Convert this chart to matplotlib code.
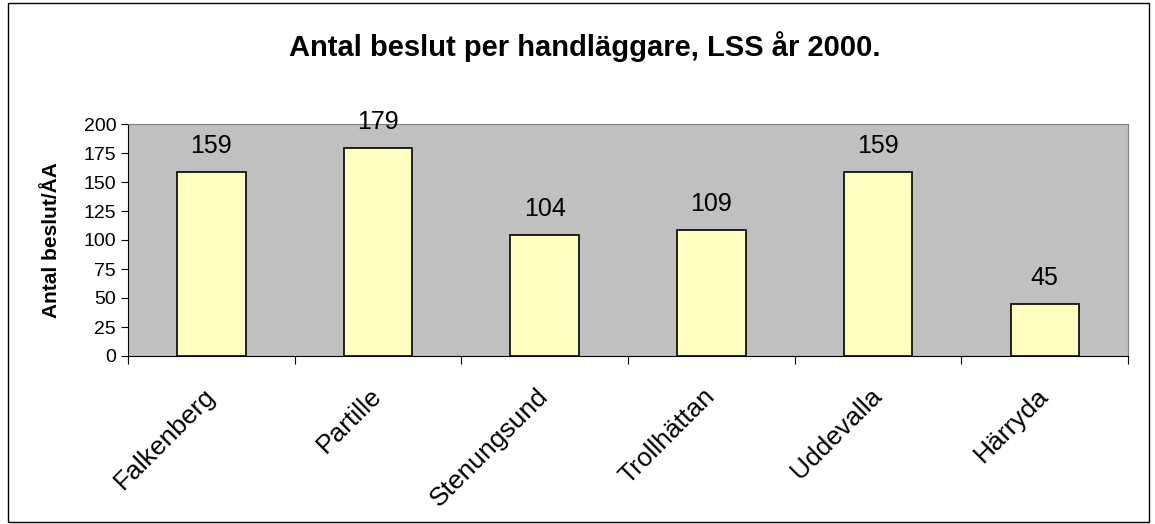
import numpy as np
import matplotlib.pyplot as plt
from matplotlib.patches import Rectangle

plt.rcParams['font.family'] = ['Liberation Sans', 'DejaVu Sans']

# data
kommuner = ["Falkenberg", "Partille", "Stenungsund", "Trollhättan", "Uddevalla", "Härryda"]
beslut = [159, 179, 104, 109, 159, 45]
yticks = [0, 25, 50, 75, 100, 125, 150, 175, 200]

fig = plt.figure(figsize=(11.55, 5.24), dpi=100)
ax = fig.add_axes([128 / 1155, 1 - 356 / 524, 1000 / 1155, 232 / 524])
ax.set_facecolor("#C0C0C0")

x = np.arange(len(kommuner))
bars = ax.bar(x, beslut, width=0.41, color="#FFFFC0", edgecolor="black", linewidth=1.2, zorder=3)

for xi, v in zip(x, beslut):
    ax.annotate(str(v), (xi, v), xytext=(0, 10), textcoords="offset points",
                ha="center", va="bottom", fontsize=18)

ax.set_xlim(-0.5, len(kommuner) - 0.5)
ax.set_ylim(0, 200)
ax.set_yticks(yticks)
ax.tick_params(axis="y", labelsize=14, length=5, direction="out")

# category boundaries as ticks, labels at bar centres
ax.set_xticks(np.arange(len(kommuner) + 1) - 0.5)
ax.set_xticklabels([])
ax.tick_params(axis="x", which="major", length=6, direction="out")
ax.set_xticks(x, minor=True)
ax.set_xticklabels(kommuner, minor=True, rotation=45, ha="right", va="center",
                   rotation_mode="anchor", fontsize=19)
ax.tick_params(axis="x", which="minor", length=0, pad=26)

for s in ["top", "right"]:
    ax.spines[s].set_color("#808080")
for s in ["left", "bottom"]:
    ax.spines[s].set_color("black")

ax.set_ylabel("Antal beslut/ÅA", fontsize=15, fontweight="bold", labelpad=16)

fig.text(585 / 1155, 1 - 47 / 524, "Antal beslut per handläggare, LSS år 2000.",
         ha="center", va="center", fontsize=21, fontweight="bold")

fig.patches.append(Rectangle((8 / 1155, 2 / 524), 1141 / 1155, 519 / 524,
                             transform=fig.transFigure, fill=False,
                             edgecolor="black", linewidth=1))

fig.savefig("out.png", dpi=100)
